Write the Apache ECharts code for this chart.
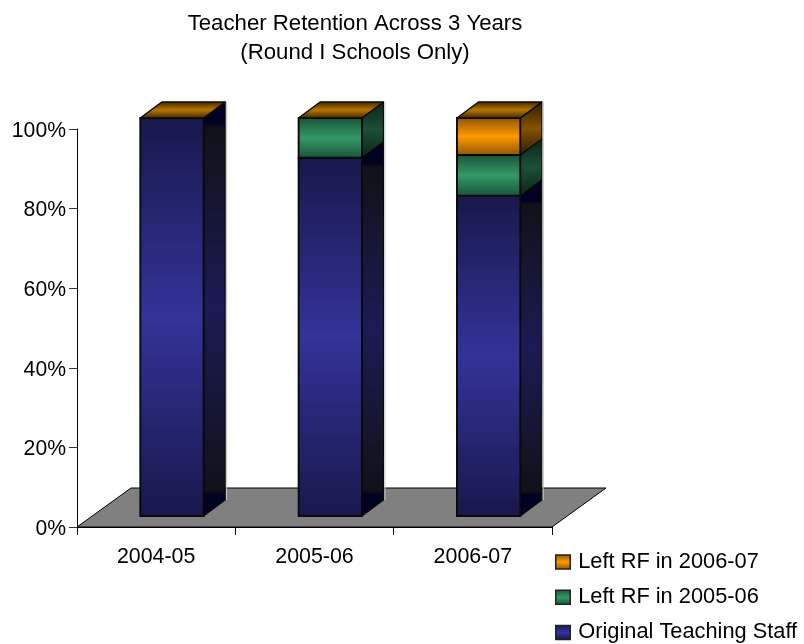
<!DOCTYPE html>
<html>
<head>
<meta charset="utf-8">
<style>html,body{margin:0;padding:0;background:#fff}#c{width:804px;height:644px}</style>
<script src="https://cdn.jsdelivr.net/npm/echarts@6/dist/echarts.min.js"></script>
</head>
<body>
<div id="c"></div>
<script>
var titleText = 'Teacher Retention Across 3 Years\n(Round I Schools Only)';
var categories = ['2004-05', '2005-06', '2006-07'];
var originalStaff = [100, 90, 80.5];
var leftRF0506 = [0, 10, 10.2];
var leftRF0607 = [0, 0, 9.3];
var seriesNames = ['Original Teaching Staff', 'Left RF in 2005-06', 'Left RF in 2006-07'];
var valueTicks = [0, 20, 40, 60, 80, 100];

var font = '"Liberation Sans", Arial, sans-serif';
var LG = echarts.graphic.LinearGradient;
var palette = [
  {edge: '#18184c', mid: '#333399', sideEdge: '#111118', sideMid: '#1b1b55', cap: '#010122'},
  {edge: '#1a5238', mid: '#339966', sideEdge: '#0c2418', sideMid: '#1b5037'},
  {edge: '#8a5400', mid: '#ff9900', sideEdge: '#2e1e00', sideMid: '#855300'}
];
var depthFloor = [54, -39];
var barShift = [15.8, -11];
var barDepth = [21.5, -16];

function vGrad(c0, c1) {
  return new LG(0, 0, 0, 1, [
    {offset: 0, color: c0}, {offset: 0.5, color: c1}, {offset: 1, color: c0}
  ]);
}
function segmentSeries(idx, values, starts) {
  var isTop = idx === 2;
  var data = values.map(function (v, i) { return [i, starts[i], starts[i] + v]; });
  return {
    type: 'custom',
    name: seriesNames[idx],
    coordinateSystem: 'cartesian2d',
    clip: false,
    z: 3 + idx,
    encode: {x: 0, y: [1, 2]},
    itemStyle: {color: palette[idx].mid},
    data: data,
    renderItem: function (params, api) {
      var cat = api.value(0), a = api.value(1), b = api.value(2);
      var pa = api.coord([cat, a]), pb = api.coord([cat, b]);
      var w = api.size([1, 0])[0] * 0.4;
      var x0 = pa[0] - w / 2 + barShift[0], x1 = x0 + w;
      var yb = pa[1] + barShift[1], yt = pb[1] + barShift[1];
      var dx = barDepth[0], dy = barDepth[1];
      var p = palette[idx];
      var kids = [];
      var stroke = '#0a0a0a';
      if (b > a) {
        var h = yb - yt, top = yt + dy, bot = yb, H = bot - top;
        var sideStops;
        if (p.cap) {
          var t = (-dy + 5) / H;
          sideStops = [
            {offset: 0, color: p.cap},
            {offset: t, color: p.cap},
            {offset: t + 0.012, color: p.sideEdge},
            {offset: 0.5, color: p.sideMid},
            {offset: 1 - t - 0.012, color: p.sideEdge},
            {offset: 1 - t, color: p.cap},
            {offset: 1, color: p.cap}
          ];
        } else {
          sideStops = [
            {offset: 0, color: p.sideEdge},
            {offset: 0.5, color: p.sideMid},
            {offset: 1, color: p.sideEdge}
          ];
        }
        kids.push({
          type: 'polygon',
          shape: {points: [[x1, yb], [x1 + dx, yb + dy], [x1 + dx, yt + dy], [x1, yt]]},
          style: {fill: new LG(0, top, 0, bot, sideStops, true), stroke: stroke, lineWidth: 1.2, lineJoin: 'round'}
        });
        kids.push({
          type: 'line',
          shape: {x1: x1 + dx + 1.5, y1: yb + dy, x2: x1 + dx + 1.5, y2: yt + dy},
          style: {stroke: '#c4c4c4', lineWidth: 1}
        });
        kids.push({
          type: 'rect',
          shape: {x: x0, y: yt, width: w, height: h},
          style: {fill: vGrad(p.edge, p.mid), stroke: stroke, lineWidth: 1.9}
        });
      }
      if (isTop) {
        kids.push({
          type: 'polygon',
          shape: {points: [[x0, yt], [x1, yt], [x1 + dx, yt + dy], [x0 + dx, yt + dy]]},
          style: {fill: vGrad('#3a2600', '#b87400'), stroke: stroke, lineWidth: 1.5, lineJoin: 'round'}
        });
      }
      return {type: 'group', children: kids};
    }
  };
}
var start0 = originalStaff.map(function () { return 0; });
var start1 = originalStaff.slice();
var start2 = originalStaff.map(function (v, i) { return v + leftRF0506[i]; });

var floorSeries = {
  type: 'custom',
  coordinateSystem: 'cartesian2d',
  clip: false,
  silent: true,
  z: 1,
  data: [[0, 0]],
  encode: {x: 0, y: 1},
  renderItem: function (params, api) {
    var g = params.coordSys;
    var yB = api.coord([0, 0])[1];
    var xL = g.x, xR = g.x + g.width;
    return {
      type: 'polygon',
      shape: {points: [[xL, yB], [xR, yB], [xR + depthFloor[0], yB + depthFloor[1]], [xL + depthFloor[0], yB + depthFloor[1]]]},
      style: {fill: '#808080', stroke: '#000', lineWidth: 1, lineJoin: 'miter'}
    };
  }
};

function swatch(i) {
  return {
    name: seriesNames[i],
    itemStyle: {color: new LG(0, 0, 0, 1, [
      {offset: 0, color: palette[i].edge}, {offset: 0.5, color: palette[i].mid}, {offset: 1, color: palette[i].edge}
    ]), borderColor: '#222', borderWidth: 1.5}
  };
}

var chart = echarts.init(document.getElementById('c'), null, {renderer: 'canvas'});
chart.setOption({
  animation: false,
  backgroundColor: '#fff',
  title: {
    text: titleText, left: 350, top: 4, textAlign: 'center',
    textStyle: {fontFamily: font, fontSize: 22.2, fontWeight: 'normal', color: '#000', lineHeight: 29}
  },
  legend: {
    orient: 'vertical', left: 555, top: 551, itemWidth: 14.5, itemHeight: 14, itemGap: 13.2,
    icon: 'rect',
    textStyle: {fontFamily: font, fontSize: 21.8, color: '#000', padding: [0, 0, 0, 3]},
    data: [swatch(2), swatch(1), swatch(0)],
    selectedMode: false, padding: 0
  },
  grid: {left: 77, right: 252, top: 129, bottom: 117, containLabel: false},
  xAxis: {
    type: 'category', data: categories, boundaryGap: true,
    axisLine: {lineStyle: {color: '#000', width: 1}},
    axisTick: {show: true, length: 8, alignWithLabel: false, lineStyle: {color: '#000'}},
    axisLabel: {fontFamily: font, fontSize: 21.4, color: '#000', margin: 20, interval: 0},
    splitLine: {show: false}
  },
  yAxis: {
    type: 'value', min: valueTicks[0], max: valueTicks[valueTicks.length - 1], interval: valueTicks[1] - valueTicks[0],
    axisLine: {show: true, lineStyle: {color: '#000', width: 1}},
    axisTick: {show: true, length: 8, lineStyle: {color: '#333'}},
    axisLabel: {fontFamily: font, fontSize: 21.2, color: '#000', margin: 11, formatter: '{value}%', verticalAlign: 'top', lineHeight: 4},
    splitLine: {show: false}
  },
  series: [
    floorSeries,
    segmentSeries(0, originalStaff, start0),
    segmentSeries(1, leftRF0506, start1),
    segmentSeries(2, leftRF0607, start2)
  ]
});
</script>
</body>
</html>
